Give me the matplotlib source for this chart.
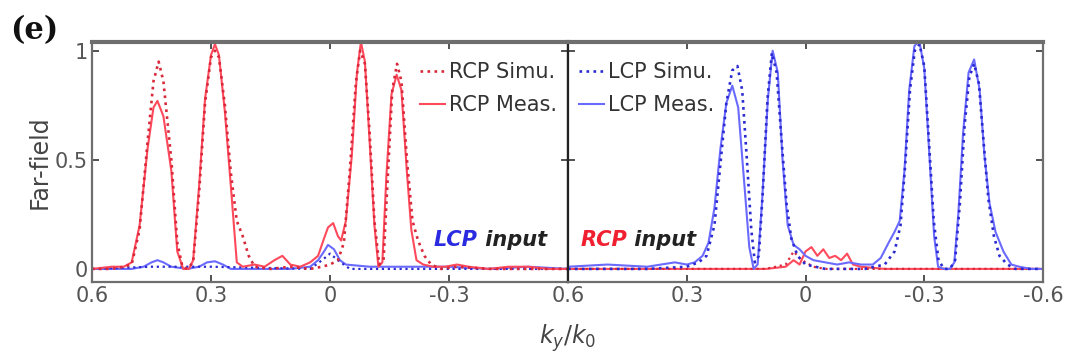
import matplotlib.pyplot as plt

# ---- data (k_y/k_0, far-field) ----
# left panel: LCP input
k_rcp_meas_l = [0.60, 0.55, 0.52, 0.50, 0.48, 0.46, 0.445, 0.435, 0.42, 0.40, 0.385, 0.37, 0.355, 0.345,
                0.33, 0.315, 0.30, 0.29, 0.28, 0.265, 0.25, 0.235, 0.22, 0.19, 0.165, 0.14, 0.12, 0.10,
                0.075, 0.05, 0.03, 0.015, 0.005, -0.008, -0.02, -0.028, -0.04, -0.055, -0.068, -0.078,
                -0.088, -0.10, -0.112, -0.122, -0.132, -0.142, -0.155, -0.168, -0.18, -0.194, -0.205,
                -0.218, -0.235, -0.26, -0.29, -0.32, -0.35, -0.40, -0.45, -0.50, -0.55, -0.60]
rcp_meas_l = [0.00, 0.01, 0.01, 0.03, 0.20, 0.55, 0.74, 0.77, 0.70, 0.45, 0.08, 0.00, 0.00, 0.04,
              0.38, 0.78, 0.98, 1.03, 0.98, 0.72, 0.38, 0.03, 0.01, 0.02, 0.01, 0.04, 0.06, 0.02,
              0.01, 0.03, 0.06, 0.14, 0.19, 0.21, 0.15, 0.13, 0.22, 0.52, 0.90, 1.04,
              0.95, 0.58, 0.20, 0.01, 0.03, 0.42, 0.80, 0.89, 0.82, 0.44, 0.18,
              0.04, 0.02, 0.01, 0.01, 0.02, 0.01, 0.00, 0.01, 0.01, 0.00, 0.00]

k_rcp_simu_l = [0.60, 0.55, 0.52, 0.50, 0.48, 0.46, 0.445, 0.432, 0.42, 0.40, 0.385, 0.372, 0.36, 0.345,
                0.33, 0.315, 0.30, 0.29, 0.28, 0.265, 0.25, 0.235, 0.22, 0.205, 0.19, 0.15, 0.10, 0.05,
                0.02, 0.0, -0.02, -0.035, -0.05, -0.065, -0.076, -0.088, -0.10, -0.112, -0.124, -0.135,
                -0.145, -0.157, -0.169, -0.18, -0.194, -0.208, -0.222, -0.238, -0.255, -0.28, -0.32,
                -0.40, -0.50, -0.60]
rcp_simu_l = [0.00, 0.00, 0.01, 0.02, 0.18, 0.58, 0.86, 0.95, 0.86, 0.50, 0.12, 0.01, 0.00, 0.03,
              0.35, 0.76, 0.97, 1.00, 0.97, 0.75, 0.44, 0.22, 0.15, 0.06, 0.01, 0.00, 0.01, 0.00,
              0.01, 0.02, 0.04, 0.12, 0.45, 0.85, 1.00, 0.94, 0.62, 0.22, 0.02, 0.04,
              0.40, 0.82, 0.94, 0.86, 0.50, 0.22, 0.13, 0.06, 0.02, 0.00, 0.01,
              0.00, 0.00, 0.00]

k_lcp_meas_l = [0.60, 0.50, 0.47, 0.45, 0.435, 0.42, 0.40, 0.36, 0.33, 0.31, 0.29, 0.27, 0.25, 0.20,
                0.10, 0.05, 0.03, 0.015, 0.005, -0.01, -0.025, -0.04, -0.10, -0.20, -0.30, -0.40,
                -0.50, -0.60]
lcp_meas_l = [0.00, 0.00, 0.01, 0.03, 0.04, 0.03, 0.01, 0.00, 0.01, 0.03, 0.035, 0.02, 0.00, 0.00,
              0.00, 0.01, 0.04, 0.08, 0.11, 0.09, 0.04, 0.02, 0.01, 0.01, 0.01, 0.00,
              0.01, 0.00]

k_lcp_simu_l = [0.60, 0.45, 0.30, 0.05, 0.02, 0.0, -0.02, -0.05, -0.30, -0.60]
lcp_simu_l = [0.00, 0.01, 0.01, 0.00, 0.04, 0.07, 0.04, 0.00, 0.00, 0.00]

# right panel: RCP input
k_lcp_meas_r = [0.60, 0.50, 0.40, 0.33, 0.30, 0.28, 0.26, 0.245, 0.23, 0.215, 0.20, 0.185, 0.17, 0.155,
                0.142, 0.131, 0.121, 0.11, 0.095, 0.083, 0.07, 0.058, 0.045, 0.03, 0.015, 0.0, -0.02,
                -0.05, -0.08, -0.11, -0.14, -0.17, -0.19, -0.21, -0.225, -0.238, -0.25, -0.262, -0.275,
                -0.287, -0.30, -0.313, -0.325, -0.335, -0.35, -0.365, -0.376, -0.386, -0.398, -0.412,
                -0.426, -0.44, -0.452, -0.465, -0.48, -0.50, -0.52, -0.54, -0.57, -0.60]
lcp_meas_r = [0.01, 0.02, 0.01, 0.03, 0.02, 0.03, 0.06, 0.12, 0.28, 0.55, 0.76, 0.84, 0.74, 0.40,
              0.10, 0.00, 0.02, 0.30, 0.78, 1.00, 0.90, 0.50, 0.20, 0.11, 0.09, 0.06, 0.04,
              0.03, 0.02, 0.03, 0.02, 0.02, 0.05, 0.12, 0.17, 0.22, 0.45, 0.82, 1.02,
              1.05, 0.92, 0.52, 0.15, 0.01, 0.00, 0.00, 0.03, 0.25, 0.62, 0.90,
              0.96, 0.82, 0.52, 0.30, 0.17, 0.08, 0.02, 0.01, 0.00, 0.00]

k_lcp_simu_r = [0.60, 0.40, 0.30, 0.27, 0.25, 0.23, 0.215, 0.20, 0.185, 0.172, 0.16, 0.148, 0.137, 0.128,
                0.118, 0.108, 0.096, 0.085, 0.073, 0.06, 0.048, 0.036, 0.02, 0.0, -0.05, -0.15, -0.20,
                -0.225, -0.24, -0.252, -0.264, -0.276, -0.288, -0.30, -0.312, -0.324, -0.336, -0.35,
                -0.365, -0.378, -0.39, -0.402, -0.414, -0.426, -0.438, -0.45, -0.462, -0.476, -0.49,
                -0.51, -0.53, -0.60]
lcp_simu_r = [0.00, 0.00, 0.01, 0.03, 0.06, 0.20, 0.48, 0.76, 0.91, 0.93, 0.82, 0.50, 0.18, 0.03,
              0.06, 0.35, 0.78, 0.99, 0.90, 0.58, 0.30, 0.14, 0.06, 0.02, 0.00, 0.00, 0.02,
              0.08, 0.20, 0.48, 0.82, 1.00, 1.03, 0.93, 0.58, 0.22, 0.04, 0.00,
              0.00, 0.04, 0.30, 0.66, 0.88, 0.94, 0.85, 0.58, 0.32, 0.15, 0.06,
              0.02, 0.00, 0.00]

k_rcp_meas_r = [0.60, 0.40, 0.20, 0.10, 0.05, 0.03, 0.015, 0.0, -0.015, -0.03, -0.045, -0.06, -0.075,
                -0.09, -0.105, -0.12, -0.14, -0.20, -0.30, -0.40, -0.50, -0.60]
rcp_meas_r = [0.00, 0.00, 0.00, 0.00, 0.01, 0.04, 0.02, 0.08, 0.10, 0.06, 0.09, 0.05, 0.06,
              0.04, 0.07, 0.02, 0.01, 0.00, 0.00, 0.00, 0.00, 0.00]

k_rcp_simu_r = [0.60, 0.10, 0.05, 0.03, 0.015, 0.0, -0.02, -0.05, -0.60]
rcp_simu_r = [0.00, 0.00, 0.02, 0.08, 0.05, 0.03, 0.01, 0.00, 0.00]

xticks = [0.6, 0.3, 0, -0.3, -0.6]
xticklabels = ['0.6', '0.3', '0', '-0.3', '-0.6']
yticks = [0, 0.5, 1]
yticklabels = ['0', '0.5', '1']

RED = '#ff4a5c'
RED_DOT = '#d8283a'
BLUE = '#6a6aff'
BLUE_DOT = '#2a2ad0'
GRAY = '#6e6e6e'

fig = plt.figure(figsize=(10.66, 3.6), dpi=100)
W, H = 1066, 360
ax1 = fig.add_axes([92 / W, 1 - 282 / H, 476 / W, 240 / H])
ax2 = fig.add_axes([568 / W, 1 - 282 / H, 475 / W, 240 / H])

for ax in (ax1, ax2):
    ax.set_xlim(0.6, -0.6)
    ax.set_ylim(-0.06, 1.04)
    ax.set_xticks(xticks)
    ax.set_yticks(yticks)
    ax.tick_params(direction='in', top=True, right=True, length=5, width=1.2,
                   labelsize=15, colors='#333333', labelcolor='#555555', pad=3)
    for s in ax.spines.values():
        s.set_color(GRAY)
        s.set_linewidth(1.6)
    ax.spines['top'].set_linewidth(3)

ax1.set_xticklabels(xticklabels[:4] + [''])
ax1.set_yticklabels(yticklabels)
ax2.set_xticklabels(xticklabels)
ax2.set_yticklabels([])
ax1.spines['right'].set_color('#222222')
ax2.spines['left'].set_color('#222222')

# left panel
ax1.plot(k_lcp_meas_l, lcp_meas_l, color=BLUE, lw=1.5)
ax1.plot(k_lcp_simu_l, lcp_simu_l, color=BLUE_DOT, lw=1.6, ls=':')
l1, = ax1.plot(k_rcp_meas_l, rcp_meas_l, color=RED, lw=1.5, label='RCP Meas.')
l2, = ax1.plot(k_rcp_simu_l, rcp_simu_l, color=RED_DOT, lw=1.9, ls=':', label='RCP Simu.')
ax1.legend(handles=[l2, l1], loc='upper right', frameon=False, fontsize=15,
           handlelength=1.2, handletextpad=0.2, labelspacing=0.6, borderaxespad=0.0,
           bbox_to_anchor=(0.995, 0.95), labelcolor='#333333')

# right panel
ax2.plot(k_rcp_meas_r, rcp_meas_r, color=RED, lw=1.5)
ax2.plot(k_rcp_simu_r, rcp_simu_r, color=RED_DOT, lw=1.6, ls=':')
r1, = ax2.plot(k_lcp_meas_r, lcp_meas_r, color=BLUE, lw=1.5, label='LCP Meas.')
r2, = ax2.plot(k_lcp_simu_r, lcp_simu_r, color=BLUE_DOT, lw=1.9, ls=':', label='LCP Simu.')
ax2.legend(handles=[r2, r1], loc='upper left', frameon=False, fontsize=15,
           handlelength=1.2, handletextpad=0.2, labelspacing=0.6, borderaxespad=0.0,
           bbox_to_anchor=(0.005, 0.95), labelcolor='#333333')

# input labels
font = dict(fontsize=15, fontweight='bold', fontstyle='italic', va='center')
ax1.text(0.81, 0.175, 'LCP', color='#2a2ae0', ha='right', transform=ax1.transAxes, **font)
ax1.text(0.81, 0.175, ' input', color='#222222', ha='left', transform=ax1.transAxes, **font)
ax2.text(0.125, 0.175, 'RCP', color='#f02030', ha='right', transform=ax2.transAxes, **font)
ax2.text(0.125, 0.175, ' input', color='#222222', ha='left', transform=ax2.transAxes, **font)

ax1.set_ylabel('Far-field', fontsize=17, color='#444444', labelpad=2)
fig.text(568 / W, 1 - 338 / H, r'$k_y/k_0$', fontsize=17, color='#444444', ha='center', va='center')
fig.text(10 / W, 1 - 31 / H, '(e)', fontsize=22, fontweight='bold', family='DejaVu Serif',
         ha='left', va='center', color='#111111')

fig.savefig('out.png', dpi=100)
